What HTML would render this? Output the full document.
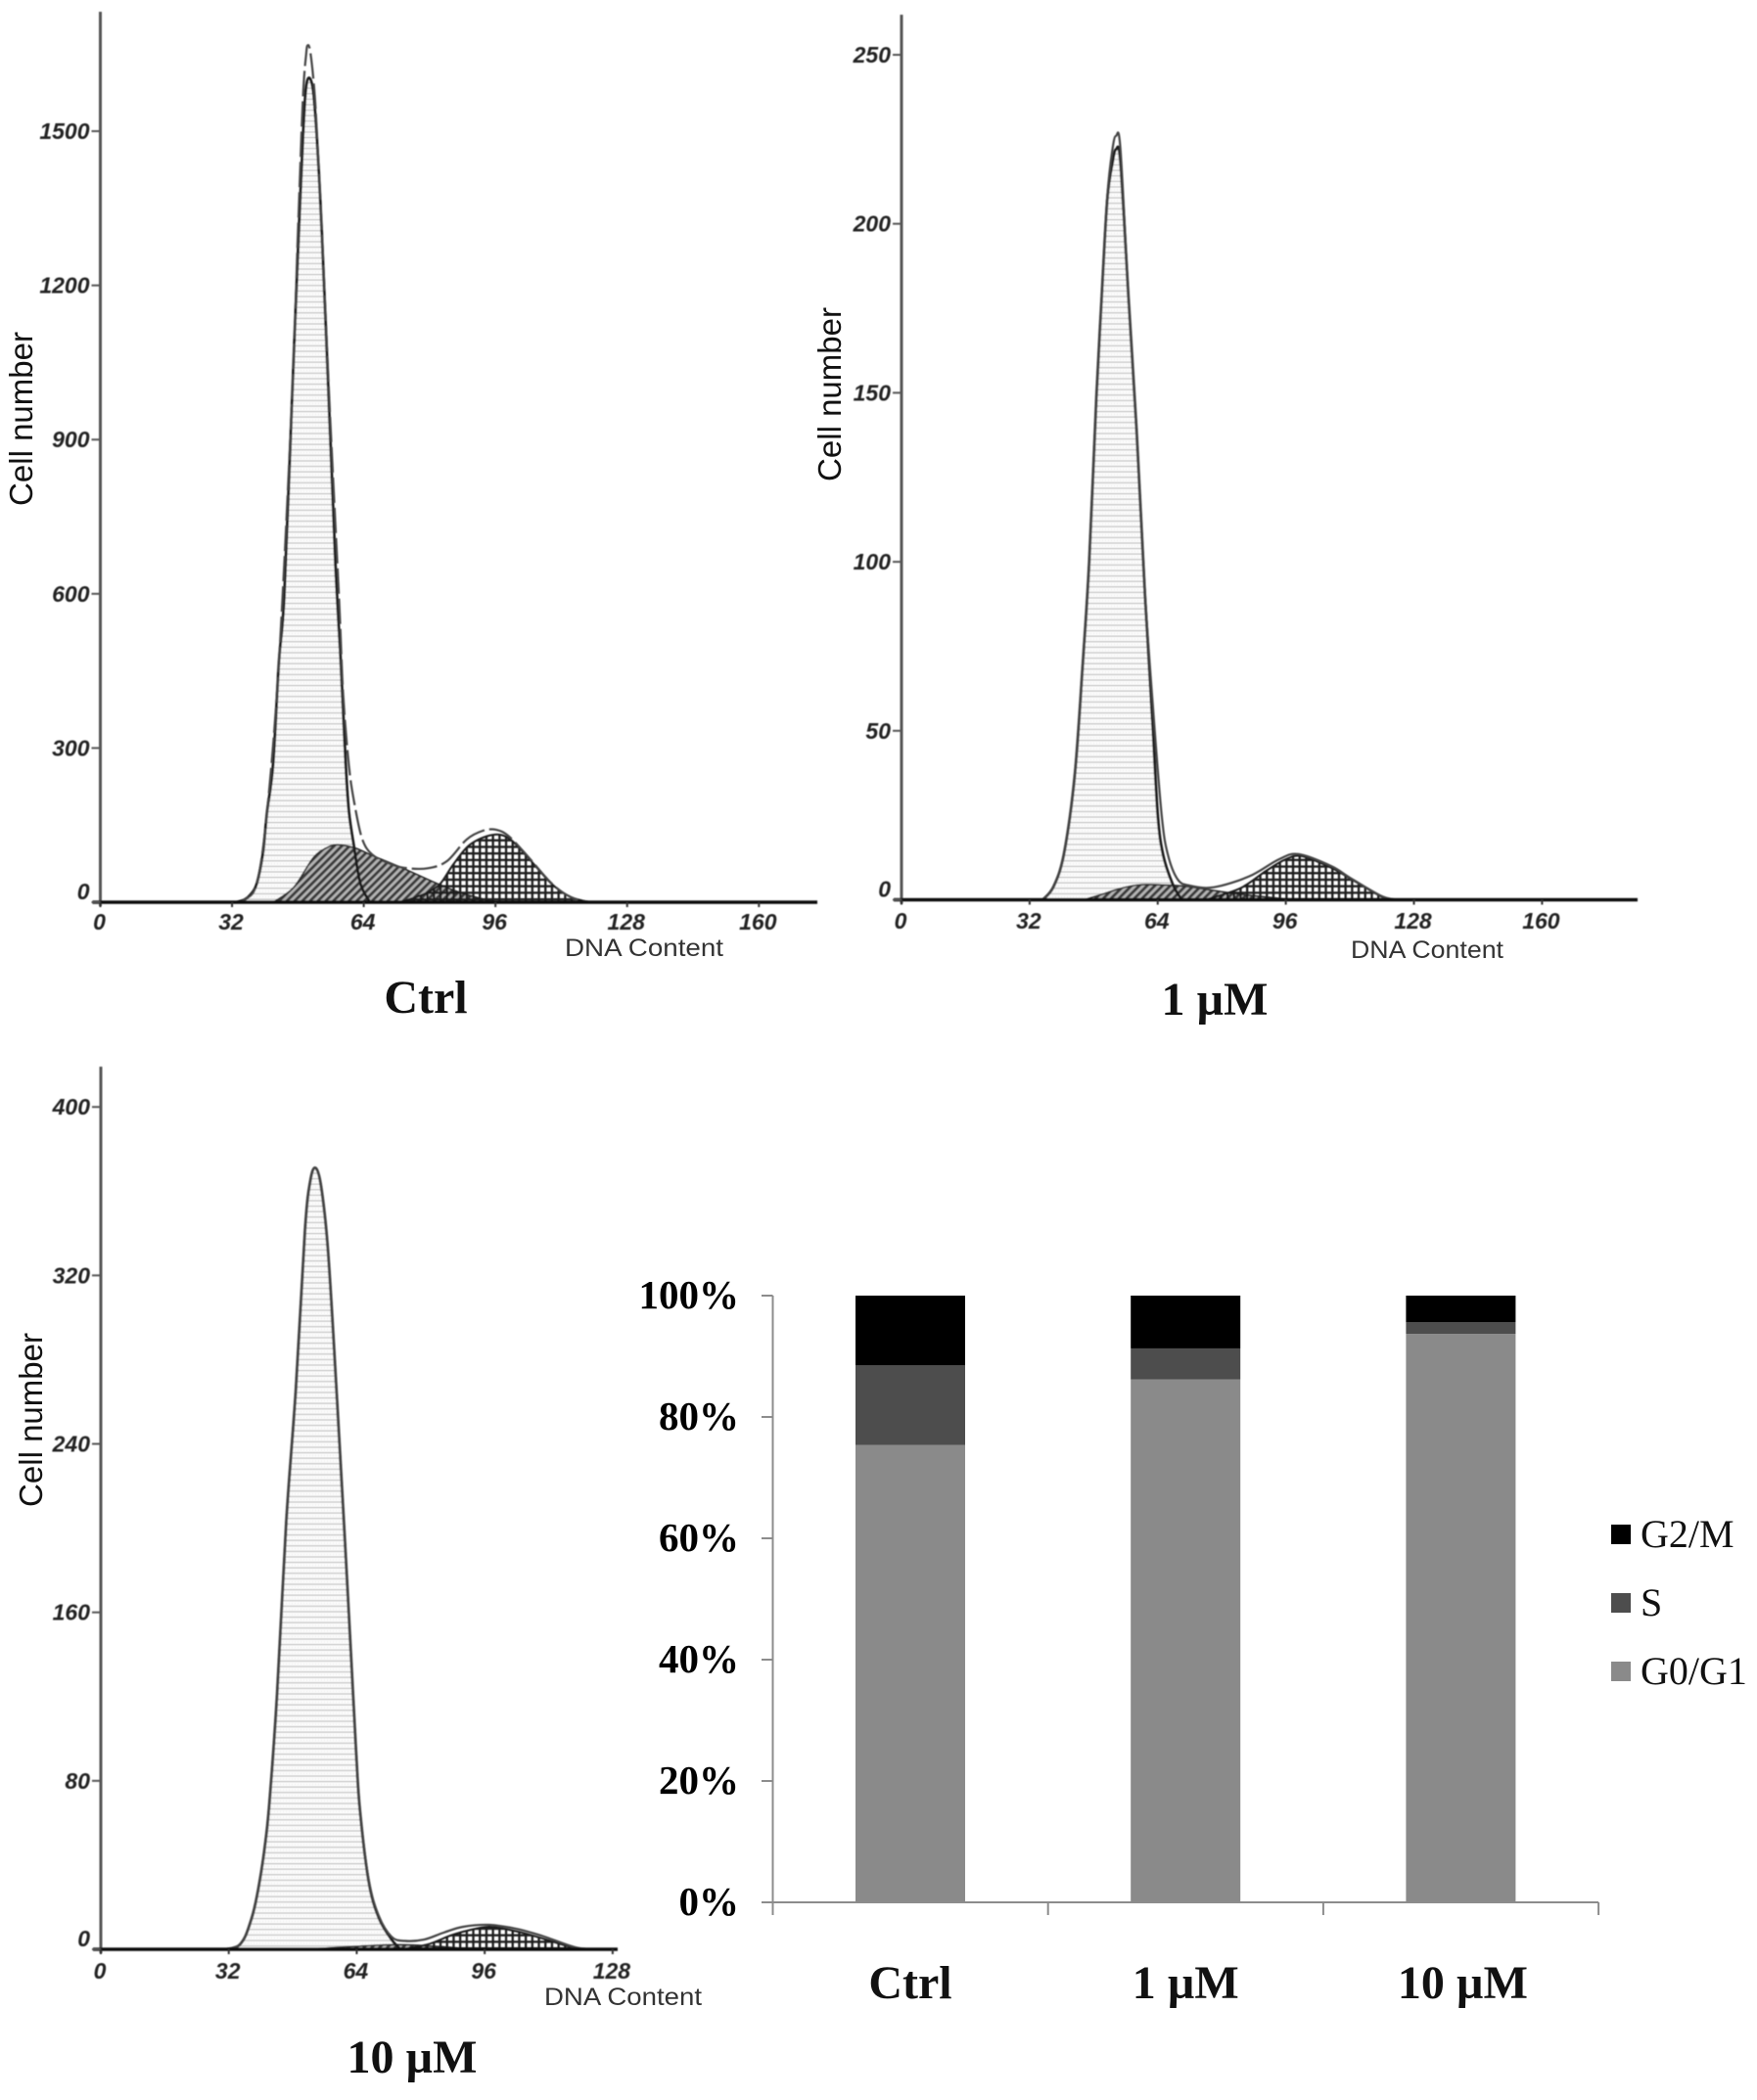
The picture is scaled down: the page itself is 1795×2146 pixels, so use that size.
<!DOCTYPE html>
<html lang="en">
<head>
<meta charset="utf-8">
<title>Cell cycle DNA content histograms</title>
<style>
html,body{margin:0;padding:0;background:#fff;}
svg{display:block;}
.tick{font:italic bold 23px "Liberation Sans",sans-serif;fill:#222;}
.ylab{font:33px "Liberation Sans",sans-serif;fill:#111;}
.dna{font:25px "Liberation Sans",sans-serif;fill:#333;}
.title{font:bold 48px "Liberation Serif",serif;fill:#111;}
.pct{font:bold 41px "Liberation Serif",serif;fill:#000;}
.leg{font:40px "Liberation Serif",serif;fill:#111;}
</style>
</head>
<body>
<svg id="figure" xmlns="http://www.w3.org/2000/svg" width="1795" height="2146" viewBox="0 0 1795 2146">
<defs>
<pattern id="hG1" patternUnits="userSpaceOnUse" width="6" height="5.6">
<rect width="6" height="5.6" fill="#fdfdfd"/>
<rect y="0" width="6" height="1.1" fill="#b8b8b8"/>
<rect x="1" y="3" width="1" height="1" fill="#e2e2e2"/>
<rect x="4" y="3" width="1" height="1" fill="#e2e2e2"/>
</pattern>
<pattern id="hS" patternUnits="userSpaceOnUse" width="5.6" height="5.6" patternTransform="rotate(-45)">
<rect width="5.6" height="5.6" fill="#b4b4b4"/>
<rect y="0" width="5.6" height="2.9" fill="#3a3a3a"/>
</pattern>
<pattern id="hG2" patternUnits="userSpaceOnUse" width="6.7" height="6.7">
<rect x="0" y="0" width="2.3" height="6.7" fill="#1c1c1c"/>
<rect x="0" y="0" width="6.7" height="2.3" fill="#1c1c1c"/>
</pattern>
<filter id="soft" filterUnits="userSpaceOnUse" x="0" y="0" width="1795" height="2146"><feGaussianBlur stdDeviation="0.55"/></filter>
</defs>

<g id="panel-ctrl" filter="url(#soft)"></g>
<g id="panel-1um" filter="url(#soft)"></g>
<g id="panel-10um" filter="url(#soft)"></g>

<text class="ylab" text-anchor="middle" transform="translate(33,428) rotate(-90)">Cell number</text>
<text class="ylab" text-anchor="middle" transform="translate(859,403) rotate(-90)">Cell number</text>
<text class="ylab" text-anchor="middle" transform="translate(43,1451) rotate(-90)">Cell number</text>

<text class="dna" x="577" y="977" textLength="162" lengthAdjust="spacingAndGlyphs">DNA Content</text>
<text class="dna" x="1380" y="979" textLength="156" lengthAdjust="spacingAndGlyphs">DNA Content</text>
<text class="dna" x="556" y="2049" textLength="161" lengthAdjust="spacingAndGlyphs">DNA Content</text>

<text class="title" x="435" y="1035" text-anchor="middle">Ctrl</text>
<text class="title" x="1241" y="1037" text-anchor="middle">1 µM</text>
<text class="title" x="421" y="2118" text-anchor="middle">10 µM</text>

<g id="stacked"></g>

<g>
<g>
<rect x="1646" y="1558" width="20" height="20" fill="#000"/>
<text class="leg" x="1676" y="1581">G2/M</text>
</g>
<g>
<rect x="1646" y="1628" width="20" height="20" fill="#4d4d4d"/>
<text class="leg" x="1676" y="1651">S</text>
</g>
<g>
<rect x="1646" y="1698" width="20" height="20" fill="#8a8a8a"/>
<text class="leg" x="1676" y="1721">G0/G1</text>
</g>
</g>
</svg>

<script>
/* ---------- Ctrl histogram ---------- */
const ctrlG1Channels = [33,35,36.5,38,39.5,40.5,42,43.4,44.7,46.6,47.9,49.3,50.2,51.5,52.5,53.8,55.8,57.1,58.4,59.6,60.4,61.7,63.2,65.5];
const ctrlG1Counts   = [0,5,15,36,95,175,270,468,597,983,1240,1498,1595,1588,1498,1304,918,660,468,270,175,105,36,0];
const ctrlSChannels  = [42,47,51.7,54.8,57.6,62,66,73.8,81.9,88.1,96];
const ctrlSCounts    = [0,29,86,105,112,105,91,65,36,17,0];
const ctrlG2Channels = [72.5,76,79.5,82.6,85.8,89.8,95.2,99.3,104,109.6,114.3,119];
const ctrlG2Counts   = [0,8,19,36,74,112,131,124,86,36,10,0];
const ctrlTotalChannels = [33,35,38,40.5,43.4,46.6,48,49.2,50,50.4,51,51.9,52.6,53.8,55.8,58,59,60.4,61.7,63.6,66,70,73.8,79.5,84.2,89,92.9,96.2,99.3,104,109.6,114.3,119];
const ctrlTotalCounts   = [0,5,36,175,468,983,1300,1560,1650,1667,1655,1590,1500,1310,950,590,404,265,194,124,93,76,67,66,80,122,139,141,128,88,37,10,0];
const ctrlYTicks = [0,300,600,900,1200,1500];
const ctrlXTicks = [0,32,64,96,128,160];

/* ---------- 1 uM histogram ---------- */
const um1G1Channels = [35.3,38,40.6,43.3,45.3,46.9,48.7,50,51.4,52.7,53.6,54.7,56.7,58.7,60.8,62.8,64,65.3,67.7,70];
const um1G1Counts   = [0,3.9,13.7,37,70,100,149,178,207,218,222,218,178,139,90,50,25,13.5,4.7,0];
const um1SChannels  = [45.5,50,55.4,60,65,71.5,82.2,94.3,97];
const um1SCounts    = [0,1.6,3.6,4.5,4.4,3.9,2,0.4,0];
const um1G2Channels = [76,84.6,91,96,100,107.3,112.2,120.3,124];
const um1G2Counts   = [0,3.4,8.5,12,12.9,9.5,6.2,0.7,0];
const um1TotalChannels = [35.3,38,40.6,43.3,45.3,46.9,48.7,50,51.4,52.7,53.6,54.7,56.7,58.7,60.8,62.8,65,66.5,69,72,78,87,94.3,99.2,107.3,112.2,120.3,125];
const um1TotalCounts   = [0,3.9,13.7,37,70,100,149,178,208,222,226,222,178,139,91,57,25,13.5,6,4.2,3.7,7,12,13.5,10,6.4,0.9,0];
const um1YTicks = [0,50,100,150,200,250];
const um1XTicks = [0,32,64,96,128,160];

/* ---------- 10 uM histogram ---------- */
const um10G1Channels = [31.4,34.3,36,37.2,38.4,39.7,40.9,42.1,44.1,46.4,48.8,51.1,52.4,53.7,55.1,56.8,59.1,61.5,63.8,64.8,67,69.5,72.7,75];
const um10G1Counts   = [0,1.5,5.6,11.6,19.5,32,47,68,121,203,266,342,365,371,362,332,260,178,95,66,32,15,4.6,0];
const um10SChannels  = [51.4,63.7,74,84.6,92.6];
const um10SCounts    = [0,1.4,2.2,1.3,0];
const um10G2Channels = [75,81.7,87.4,91.5,97.2,103.8,110.2,118.5,123.4];
const um10G2Counts   = [0,2.3,6.5,8.8,10.7,8.6,5.3,0.6,0];
const um10TotalChannels = [31.4,34.3,36,37.2,38.4,39.7,40.9,42.1,44.1,46.4,48.8,51.1,52.4,53.7,55.1,56.8,59.1,61.5,63.8,64.8,67,69.5,72.7,75.9,80.8,85.7,90.6,97.2,103.8,110.2,118.5,123.4];
const um10TotalCounts   = [0,1.5,5.6,11.6,19.5,32,47,68,121,203,266,342,365,371,362,332,260,178,95,66,33,16,6,4,4.6,7.9,10.7,11.6,9.8,6.5,1,0];
const um10YTicks = [0,80,160,240,320,400];
const um10XTicks = [0,32,64,96,128];

/* ---------- stacked bar chart ---------- */
const barCategories = ['Ctrl','1 µM','10 µM'];
const g0g1Percent = [75.4,86.2,93.7];
const sPercent    = [13.1,5.1,1.9];
const g2mPercent  = [11.5,8.7,4.4];
const percentTicks = [0,20,40,60,80,100];

const NS = 'http://www.w3.org/2000/svg';
function make(tag, attrs, parent){
  const e = document.createElementNS(NS, tag);
  for (const k in attrs) e.setAttribute(k, attrs[k]);
  parent.appendChild(e);
  return e;
}
function smoothPath(pts){
  let d = 'M' + pts[0][0].toFixed(1) + ' ' + pts[0][1].toFixed(1);
  for (let i = 0; i < pts.length - 1; i++){
    const p0 = pts[Math.max(0,i-1)], p1 = pts[i], p2 = pts[i+1], p3 = pts[Math.min(pts.length-1,i+2)];
    const c1x = p1[0] + (p2[0]-p0[0])/6, c1y = p1[1] + (p2[1]-p0[1])/6;
    const c2x = p2[0] - (p3[0]-p1[0])/6, c2y = p2[1] - (p3[1]-p1[1])/6;
    d += 'C' + c1x.toFixed(1) + ' ' + c1y.toFixed(1) + ' ' + c2x.toFixed(1) + ' ' + c2y.toFixed(1) + ' ' + p2[0].toFixed(1) + ' ' + p2[1].toFixed(1);
  }
  return d;
}
function drawHistogram(opt){
  const g = document.getElementById(opt.id);
  const xScale = ch => opt.x0 + ch * opt.xPerChannel;
  const yScale = v => opt.y0 - v * opt.yPerCount;
  const curve = (chs, vals) => smoothPath(chs.map((c,i) => [xScale(c), yScale(vals[i])]));
  const area = (name, chs, vals, pat, stroke, sw) => {
    const p = make('path', {d: curve(chs, vals) + 'Z', fill: 'url(#' + pat + ')', stroke: stroke, 'stroke-width': sw}, g);
    
    
  };
  area('g0-g1-peak', opt.g1[0], opt.g1[1], 'hG1', 'none', 0);
  area('s-phase-area', opt.s[0], opt.s[1], 'hS', '#2a2a2a', 1.6);
  area('g2-m-peak', opt.g2[0], opt.g2[1], 'hG2', '#1a1a1a', 2);

  const o = make('path', {d: curve(opt.g1[0], opt.g1[1]), fill: 'none', stroke: '#1c1c1c', 'stroke-width': 2.8}, g);
  
  

  const t = make('path', {d: curve(opt.total[0], opt.total[1]), fill: 'none', stroke: '#444', 'stroke-width': 2.2, 'stroke-dasharray': opt.dash}, g);
  
  

  const ya = make('line', {x1: opt.x0, x2: opt.x0, y1: opt.yTop, y2: opt.y0 + 4, stroke: '#555', 'stroke-width': 3}, g);
  
  
  const xa = make('line', {x1: opt.x0 - 8, x2: opt.xEnd, y1: opt.y0, y2: opt.y0, stroke: '#111', 'stroke-width': 3.4}, g);
  
  

  opt.yTicks.forEach(v => {
    const y = yScale(v);
    const m = make('line', {x1: opt.x0 - 9, x2: opt.x0, y1: y, y2: y, stroke: '#555', 'stroke-width': 2}, g);
    
    
    const l = make('text', {class: 'tick', x: opt.x0 - 11, y: y + 8 - (v === 0 ? 11 : 0), 'text-anchor': 'end'}, g);
    
    
    l.textContent = v;
  });
  opt.xTicks.forEach(v => {
    const x = xScale(v);
    const m = make('line', {x1: x, x2: x, y1: opt.y0, y2: opt.y0 + 5, stroke: '#333', 'stroke-width': 2}, g);
    
    
    const l = make('text', {class: 'tick', x: x - 1, y: opt.xLabelY, 'text-anchor': 'middle'}, g);
    
    
    l.textContent = v;
  });
}
drawHistogram({id:'panel-ctrl', x0:102.5, y0:922, xPerChannel:4.205, yPerCount:0.5253, yTop:12, xEnd:835, xLabelY:950, dash:'26 5',
  g1:[ctrlG1Channels,ctrlG1Counts], s:[ctrlSChannels,ctrlSCounts], g2:[ctrlG2Channels,ctrlG2Counts], total:[ctrlTotalChannels,ctrlTotalCounts], yTicks:ctrlYTicks, xTicks:ctrlXTicks});
drawHistogram({id:'panel-1um', x0:921, y0:919.5, xPerChannel:4.09, yPerCount:3.454, yTop:15, xEnd:1673, xLabelY:949, dash:'none',
  g1:[um1G1Channels,um1G1Counts], s:[um1SChannels,um1SCounts], g2:[um1G2Channels,um1G2Counts], total:[um1TotalChannels,um1TotalCounts], yTicks:um1YTicks, xTicks:um1XTicks});
drawHistogram({id:'panel-10um', x0:103, y0:1992, xPerChannel:4.085, yPerCount:2.152, yTop:1090, xEnd:631, xLabelY:2022, dash:'none',
  g1:[um10G1Channels,um10G1Counts], s:[um10SChannels,um10SCounts], g2:[um10G2Channels,um10G2Counts], total:[um10TotalChannels,um10TotalCounts], yTicks:um10YTicks, xTicks:um10XTicks});

(function drawStacked(){
  const g = document.getElementById('stacked');
  const yP = p => 1944 - p * 6.2;
  const bandLeft = i => 789.5 + i * 281.2;
  const barLeft = i => bandLeft(i) + 84.5;
  const barWidth = 112;
  barCategories.forEach((cat, i) => {
    const segs = [
      ['bar-g0-g1', 0, g0g1Percent[i], '#8a8a8a'],
      ['bar-s', g0g1Percent[i], sPercent[i], '#4d4d4d'],
      ['bar-g2-m', g0g1Percent[i] + sPercent[i], g2mPercent[i], '#000']
    ];
    segs.forEach(s => {
      const r = make('rect', {x: barLeft(i), y: yP(s[1] + s[2]), width: barWidth, height: s[2] * 6.2, fill: s[3]}, g);
      
      
    });
    const l = make('text', {class: 'title', x: barLeft(i) + barWidth / 2 + (i === 2 ? 2 : 0), y: 2042, 'text-anchor': 'middle'}, g);
    
    
    l.textContent = cat;
  });
  const ya = make('line', {x1: 789.5, x2: 789.5, y1: yP(100), y2: yP(0), stroke: '#8c8c8c', 'stroke-width': 2}, g);
  
  
  const xa = make('line', {x1: 778, x2: bandLeft(barCategories.length), y1: yP(0), y2: yP(0), stroke: '#8c8c8c', 'stroke-width': 2}, g);
  
  
  percentTicks.forEach(p => {
    const m = make('line', {x1: 778, x2: 789.5, y1: yP(p), y2: yP(p), stroke: '#8c8c8c', 'stroke-width': 2}, g);
    
    
    const l = make('text', {class: 'pct', x: 755, y: yP(p) + 13, 'text-anchor': 'end'}, g);
    
    
    l.textContent = p + '%';
  });
  for (let i = 0; i <= barCategories.length; i++){
    const m = make('line', {x1: bandLeft(i), x2: bandLeft(i), y1: yP(0), y2: yP(0) + 13, stroke: '#8c8c8c', 'stroke-width': 2}, g);
    
    
  }
})();
</script>
</body>
</html>
